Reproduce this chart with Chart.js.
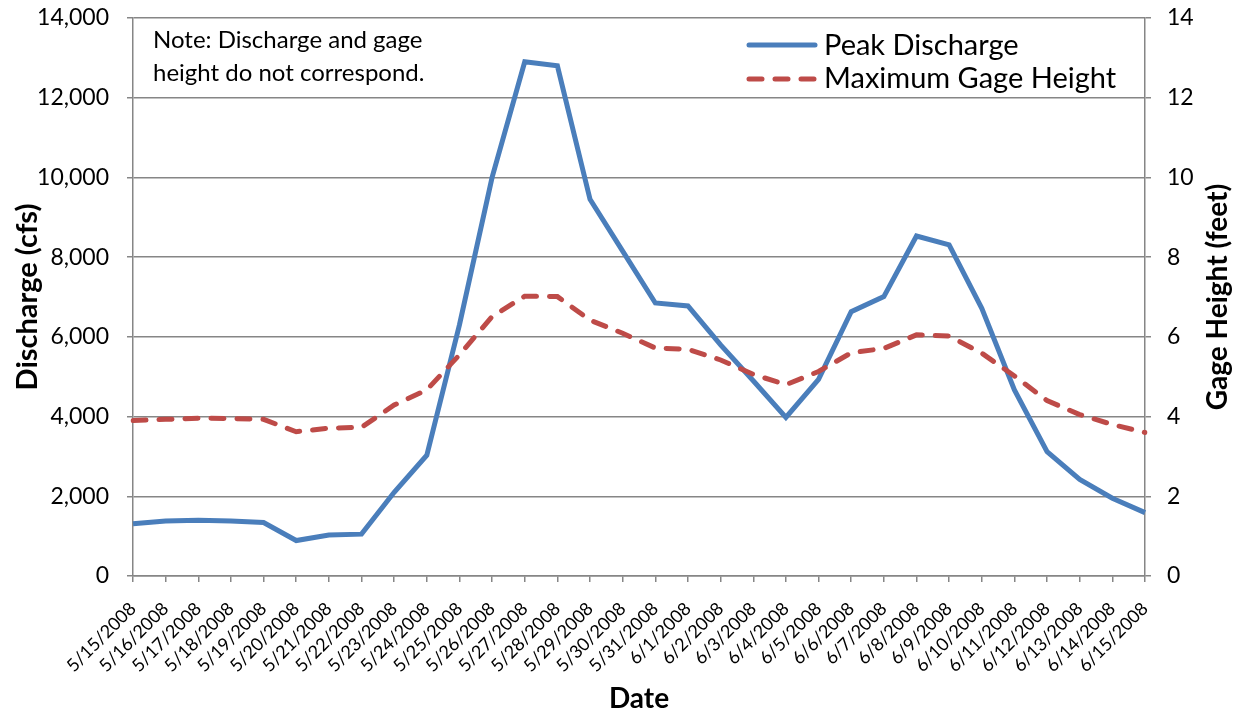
<!DOCTYPE html>
<html>
<head>
<meta charset="utf-8">
<script src="https://cdn.jsdelivr.net/npm/chart.js@4.4.1/dist/chart.umd.min.js"></script>
<style>
    html, body {margin: 0; padding: 0; background: #fff;}
    #wrap {width: 1241px; height: 713px; position: relative;}
</style>
</head>
<body>
<div id="wrap"><canvas id="chart1"></canvas></div>
<script>
var dateLabels = [
    "5/15/2008", "5/16/2008", "5/17/2008", "5/18/2008", "5/19/2008", "5/20/2008", "5/21/2008", "5/22/2008",
    "5/23/2008", "5/24/2008", "5/25/2008", "5/26/2008", "5/27/2008", "5/28/2008", "5/29/2008", "5/30/2008",
    "5/31/2008", "6/1/2008", "6/2/2008", "6/3/2008", "6/4/2008", "6/5/2008", "6/6/2008", "6/7/2008",
    "6/8/2008", "6/9/2008", "6/10/2008", "6/11/2008", "6/12/2008", "6/13/2008", "6/14/2008", "6/15/2008"
]
var peakDischarge = [
    1310, 1380, 1400, 1380, 1340, 890, 1030, 1050,
    2100, 3030, 6300, 10000, 12900, 12800, 9450, 8150,
    6850, 6775, 5800, 4900, 3980, 4935, 6630, 7010,
    8530, 8310, 6715, 4670, 3120, 2425, 1950, 1590
]
var maxGageHeight = [
    3.90, 3.93, 3.96, 3.95, 3.93, 3.62, 3.71, 3.73,
    4.29, 4.67, 5.55, 6.51, 7.02, 7.01, 6.42, 6.09,
    5.72, 5.69, 5.42, 5.06, 4.80, 5.13, 5.60, 5.71,
    6.05, 6.02, 5.59, 5.02, 4.40, 4.05, 3.80, 3.60
]
var dischargeTicks = {min: 0, max: 14000, step: 2000}
var gageTicks = {min: 0, max: 14, step: 2}
var seriesNames = ["Peak Discharge", "Maximum Gage Height"]
var noteLines = ["Note: Discharge and gage", "height do not correspond."]

var blue = "#4A7EBB"
var red = "#BE4B48"
var gridGray = "#868686"
var fontName = "Lato, 'Open Sans', sans-serif"

// legend, note and right axis title drawn inside/around plot like the excel one
var extrasPlugin = {
    id: "extras",
    afterDraw: function(chart){
        var ctx = chart.ctx
        var area = chart.chartArea
        ctx.save()
        ctx.fillStyle = "#000"
        ctx.textBaseline = "alphabetic"
        ctx.textAlign = "left"
        ctx.font = "24px " + fontName
        ctx.fillText(noteLines[0], 153, 48)
        ctx.fillText(noteLines[1], 153, 81)

        // legend
        ctx.lineWidth = 5
        ctx.lineCap = "round"
        ctx.strokeStyle = blue
        ctx.beginPath(); ctx.moveTo(749, 45); ctx.lineTo(815, 45); ctx.stroke()
        ctx.strokeStyle = red
        ctx.setLineDash([13, 13])
        ctx.beginPath(); ctx.moveTo(749, 79); ctx.lineTo(815, 79); ctx.stroke()
        ctx.setLineDash([])
        ctx.font = "29px " + fontName
        ctx.fillText(seriesNames[0], 824, 55)
        ctx.fillText(seriesNames[1], 824, 88)

        // right axis title, reads bottom to top
        ctx.translate(1218, (area.top + area.bottom) / 2)
        ctx.rotate(-Math.PI / 2)
        ctx.textAlign = "center"
        ctx.textBaseline = "middle"
        ctx.font = "bold 28px " + fontName
        ctx.fillText("Gage Height (feet)", 0, 0)
        ctx.restore()
    }
}

new Chart(document.getElementById("chart1"), {
    type: "line",
    data: {
        labels: dateLabels,
        datasets: [
            {
                label: seriesNames[0],
                data: peakDischarge,
                yAxisID: "y",
                borderColor: blue,
                borderWidth: 5,
                pointRadius: 0,
                tension: 0,
                order: 2
            },
            {
                label: seriesNames[1],
                data: maxGageHeight,
                yAxisID: "y1",
                borderColor: red,
                borderWidth: 5,
                borderDash: [13, 13],
                borderCapStyle: "round",
                pointRadius: 0,
                tension: 0,
                order: 1
            }
        ]
    },
    options: {
        responsive: true,
        maintainAspectRatio: false,
        animation: false,
        layout: {padding: {top: 18, left: 0, right: 0, bottom: 0}},
        plugins: {legend: {display: false}, tooltip: {enabled: false}},
        scales: {
            x: {
                type: "category",
                offset: false,
                grid: {drawOnChartArea: false, drawTicks: true, tickLength: 6, color: gridGray, lineWidth: 1.5},
                border: {color: gridGray, width: 1.5},
                ticks: {autoSkip: false, minRotation: 45, maxRotation: 45, color: "#000", font: {family: fontName, size: 18}, padding: 16},
                title: {display: true, text: "Date", color: "#000", font: {family: fontName, size: 28, weight: "bold", lineHeight: 1}, padding: {top: 0, bottom: 0}},
                afterFit: function(s){ s.height = 137; s.paddingLeft = 0; s.paddingRight = 0 }
            },
            y: {
                position: "left",
                min: dischargeTicks.min, max: dischargeTicks.max,
                grid: {color: gridGray, lineWidth: 1.5, tickLength: 6},
                border: {color: gridGray, width: 1.5},
                ticks: {stepSize: dischargeTicks.step, color: "#000", font: {family: fontName, size: 23}, padding: 18,
                    callback: function(v){ return v.toLocaleString("en-US") }},
                title: {display: true, text: "Discharge (cfs)", color: "#000", font: {family: fontName, size: 29, weight: "bold"}, padding: {top: 10, bottom: 0}},
                afterFit: function(s){ s.width = 133; s.paddingTop = 0; s.paddingBottom = 0 }
            },
            y1: {
                position: "right",
                min: gageTicks.min, max: gageTicks.max,
                grid: {drawOnChartArea: false, color: gridGray, lineWidth: 1.5, tickLength: 6},
                border: {color: gridGray, width: 1.5},
                ticks: {stepSize: gageTicks.step, color: "#000", font: {family: fontName, size: 23}, padding: 16},
                afterFit: function(s){ s.width = 96; s.paddingTop = 0; s.paddingBottom = 0 }
            }
        }
    },
    plugins: [extrasPlugin]
})
</script>
</body>
</html>
